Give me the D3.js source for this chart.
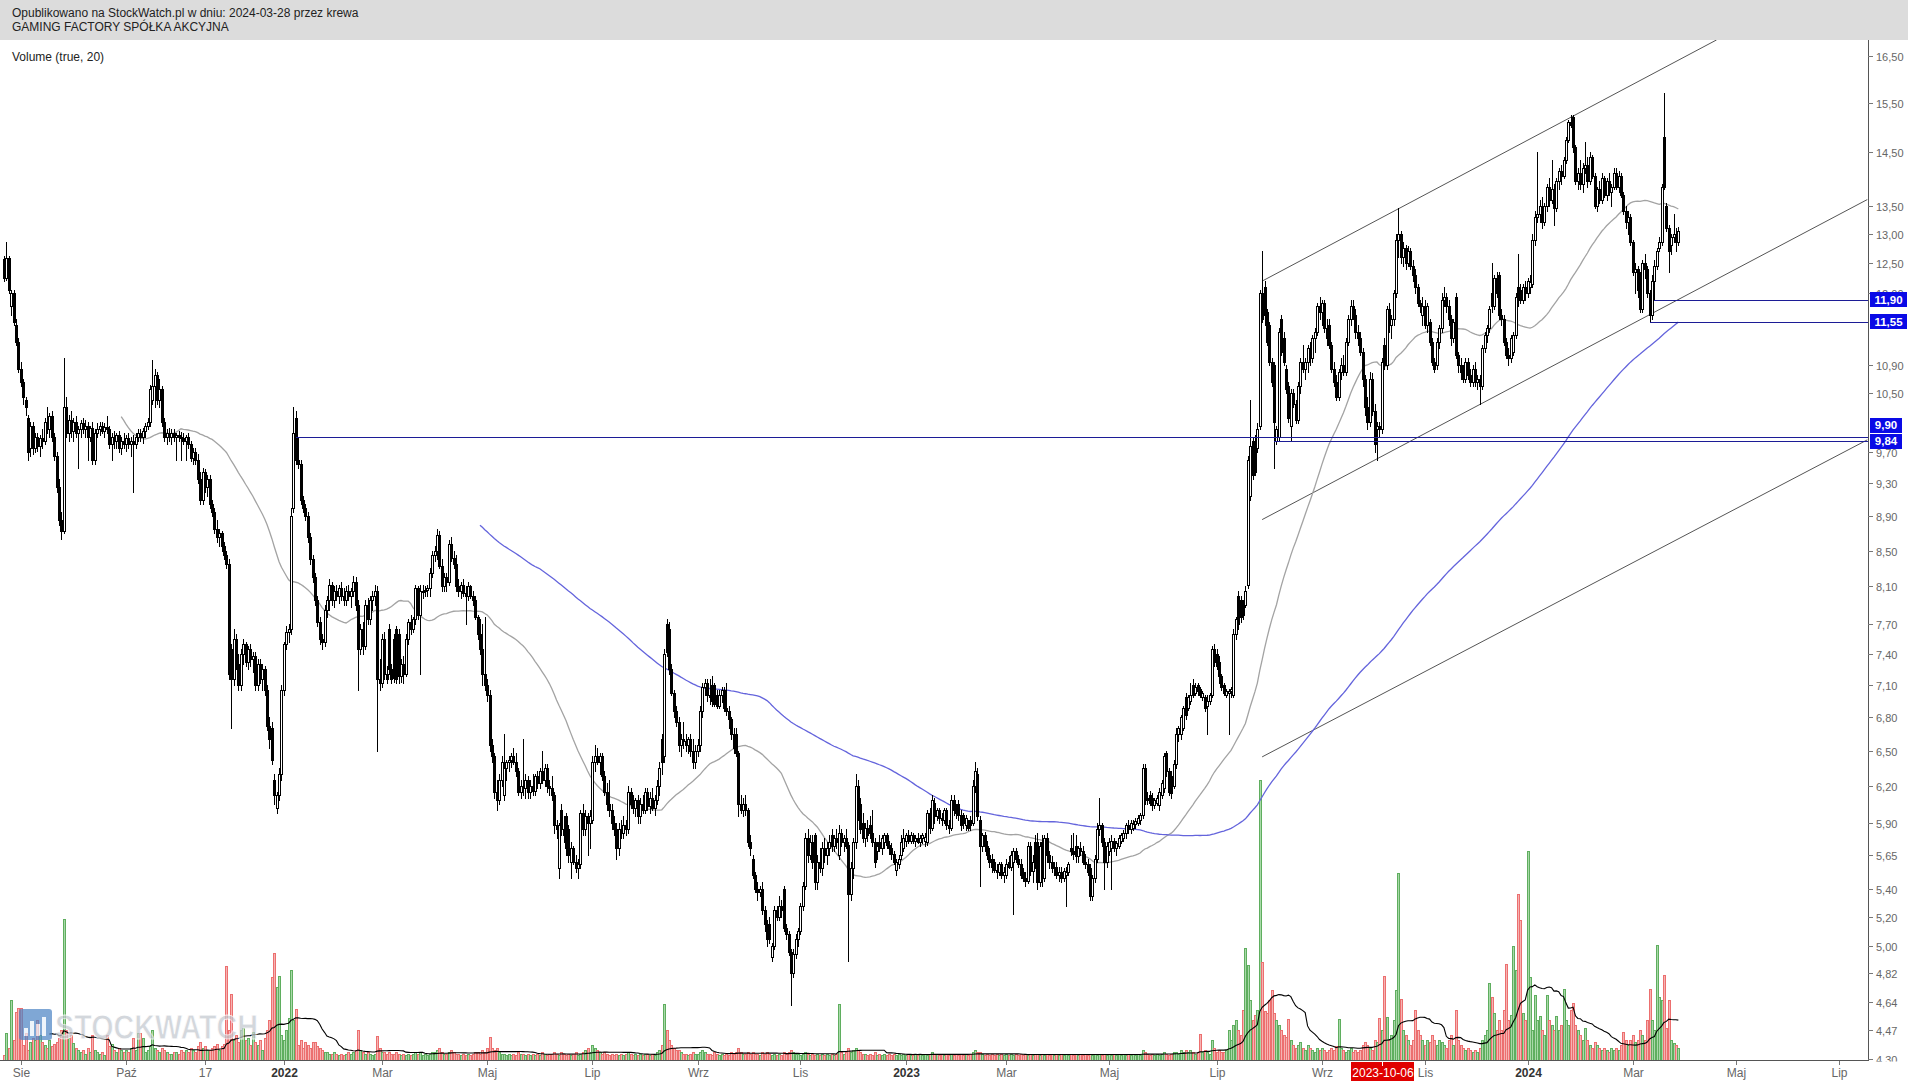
<!DOCTYPE html>
<html><head><meta charset="utf-8">
<script src="https://cdn.jsdelivr.net/npm/d3@7"></script>
<style>
body{margin:0;background:#fff;overflow:hidden}
svg{display:block}
text{font-family:"Liberation Sans",Arial,sans-serif}
</style>
</head><body>
<svg id="c" width="1908" height="1081"></svg>
<script>
// ---------------- DATA ----------------
const titleLine1 = "Opublikowano na StockWatch.pl w dniu: 2024-03-28 przez krewa";
const titleLine2 = "GAMING FACTORY SPÓŁKA AKCYJNA";
const volumeLabel = "Volume (true, 20)";
const firstTradingDay = "2021-07-22";
// daily candles, prices in grosze: open high low close volume(thousands)
const candleText = `
1256 1262 1220 1225 5;1225 1286 1222 1258 27;1258 1262 1200 1205 12;1180 1205 1165 1200 60;1200 1205 1150 1155 20;1150 1160 1120 1125 48;1125 1130 1080 1085 52;1085 1095 1060 1065 52;1065 1070 1035 1045 15;1040 1045 1020 1030 27
1015 1020 960 970 10;975 1010 965 1005 18;1005 1010 968 975 22;975 995 970 990 20;990 995 972 978 40;978 992 965 988 25;988 1000 975 985 18;985 1015 980 1010 15;1010 1030 995 1000 12;1000 1022 990 1018 20
1018 1025 985 990 14;990 995 960 965 16;965 970 920 925 18;925 935 880 885 22;885 895 863 872 30;872 1100 870 1030 141;1030 1045 990 995 30;995 1020 985 1012 22;1012 1025 990 998 25;998 1015 985 1010 17
1010 1018 990 995 12;995 1005 950 1000 10;1000 1012 990 1008 8;1008 1015 995 1000 10;1000 1012 990 1005 6;1005 1010 960 990 12;990 1005 985 1002 8;1002 1010 955 960 25;960 1000 955 995 10;995 1008 990 1000 8
1000 1010 992 1005 6;1005 1010 995 998 8;998 1008 990 1003 5;1003 1018 995 1000 25;1000 1005 975 980 14;980 995 960 990 16;990 998 975 985 10;985 995 975 992 8;992 998 970 975 12;975 990 968 985 10
985 995 975 980 8;980 992 972 988 10;988 995 975 980 8;980 990 965 985 12;985 992 920 980 22;980 995 975 990 10;990 1000 985 995 27;995 1000 985 990 27;990 1002 982 998 22;998 1008 990 1005 8
1005 1015 1000 1010 10;1010 1062 1005 1055 14;1040 1097 1035 1060 30;1060 1085 1030 1075 12;1075 1080 1035 1040 10;1040 1070 1030 1055 8;1055 1060 1005 1010 12;1010 1015 985 990 10;990 1000 980 995 8;995 1002 985 990 6
990 1000 980 995 6;995 1000 985 990 8;990 995 960 992 8;992 998 985 990 6;990 996 960 988 10;988 995 980 985 8;985 992 960 990 10;990 995 975 980 8;980 985 958 962 12;962 975 955 970 10
970 975 955 960 8;960 968 930 935 14;935 945 905 910 18;910 950 905 945 12;945 948 920 925 14;925 940 915 935 10;935 940 900 905 10;905 910 890 895 12;895 900 870 875 14;875 885 860 865 16
865 875 855 870 10;870 872 850 855 14;855 860 840 845 16;845 850 830 835 94;835 840 715 720 30;745 750 670 715 66;715 765 710 755 20;755 760 725 730 25;730 740 705 710 18;710 745 705 740 30
740 755 730 750 32;750 752 728 732 20;732 748 725 745 22;745 750 728 735 15;735 742 722 738 28;738 742 705 710 18;710 735 705 730 15;730 735 712 715 20;715 730 705 725 10;725 728 700 705 22
705 710 668 672 30;672 680 652 660 40;670 675 638 642 83;625 630 605 612 107;602 615 598 612 73;612 635 608 630 84;630 710 625 705 25;705 752 700 750 20;750 768 745 762 30;762 770 752 765 42
765 900 760 890 90;900 1030 895 995 40;1015 1025 955 960 51;960 988 950 955 15;955 960 905 910 20;910 915 895 900 12;900 905 885 890 18;890 895 860 865 15;865 870 835 840 12;840 845 815 820 18
820 825 790 795 18;795 800 768 772 14;772 778 750 755 12;755 760 745 752 10;752 790 748 785 8;785 800 778 795 8;795 818 785 812 6;812 815 790 795 6;795 810 788 805 8;805 812 795 800 6
800 812 792 808 5;808 815 795 800 6;800 808 790 795 5;795 810 790 805 6;805 812 795 800 8;800 808 788 805 6;805 822 800 815 8;815 820 785 790 10;790 795 705 745 30;745 770 740 765 10
765 772 740 748 8;748 795 745 790 6;790 798 770 775 8;775 800 770 795 6;795 805 785 800 5;800 812 790 805 6;805 810 650 715 24;715 735 705 712 12;712 760 708 755 8;755 762 715 720 8
720 728 712 715 6;765 770 720 725 8;725 730 712 715 6;755 760 713 716 6;765 768 712 715 8;760 765 712 718 6;718 735 713 730 5;730 738 712 720 6;720 760 718 755 5;755 775 750 772 6
772 780 760 765 5;765 778 762 775 6;775 812 770 808 8;808 810 775 780 6;780 812 720 805 8;805 812 798 805 5;805 810 800 806 6;806 812 800 808 5;808 830 800 825 6;825 850 820 845 8
845 855 838 850 8;850 875 840 868 10;868 872 830 832 12;832 840 805 810 8;810 825 805 820 6;820 825 805 815 6;815 862 812 858 8;858 865 838 842 10;842 850 830 835 8;835 845 805 810 6
810 818 800 805 6;805 815 798 812 5;812 818 800 803 6;803 810 770 800 5;800 815 795 810 6;810 812 798 800 5;800 805 790 795 6;795 800 775 778 8;778 780 755 760 8;760 775 740 745 6
745 770 710 720 10;720 778 705 710 8;710 715 695 700 12;700 705 650 655 23;655 660 640 645 12;645 648 610 615 10;615 625 600 608 12;608 630 605 625 8;625 645 620 640 6;612 665 608 635 6
635 642 625 640 5;640 645 632 642 6;642 648 636 645 5;645 652 638 640 6;640 648 628 632 5;632 635 612 615 8;615 625 610 620 6;620 660 612 618 6;618 630 610 625 5;625 628 610 615 6
615 625 610 620 5;620 630 612 616 6;616 630 612 628 5;628 632 618 622 6;622 635 618 632 5;632 650 622 625 8;625 638 620 635 6;635 638 615 620 5;620 625 612 618 6;618 628 608 612 6
612 615 582 588 8;588 592 578 585 6;555 590 548 588 5;600 605 580 585 8;585 595 575 580 6;595 598 565 570 5;585 588 560 565 6;560 575 548 570 5;570 572 558 560 6;560 565 552 555 8
555 562 548 558 5;558 600 555 598 6;598 605 580 585 8;585 600 580 595 10;595 598 565 590 12;590 600 570 595 8;592 645 590 640 15;640 655 632 645 12;645 652 638 640 10;640 648 630 645 8
645 648 625 628 6;628 632 612 615 8;615 622 600 605 6;605 625 595 600 5;600 605 585 590 6;590 595 580 585 5;585 590 562 570 6;570 590 565 585 5;585 592 578 582 6;582 595 578 588 5
588 592 580 585 6;585 620 582 615 8;615 618 602 605 6;605 612 598 602 5;602 610 595 608 6;608 612 590 595 5;595 610 590 605 6;605 612 598 600 5;600 618 598 615 6;615 618 600 603 6
603 615 598 610 5;610 618 600 602 6;602 612 596 608 5;608 625 605 620 8;620 640 612 635 10;660 665 630 640 15;645 745 640 740 56;770 775 738 742 30;765 772 720 725 20;725 730 700 702 15
702 705 680 685 12;685 690 672 675 10;675 680 650 655 10;655 665 645 660 8;660 675 652 658 6;658 665 650 655 6;655 662 648 660 5;660 665 645 650 6;650 660 635 640 8;640 655 635 650 6
650 660 645 655 6;655 690 650 685 8;685 712 680 708 10;708 715 700 712 8;712 715 695 700 6;700 715 692 698 6;710 718 690 695 5;710 712 690 692 8;700 705 688 690 6;690 705 688 700 5
700 708 694 705 6;705 708 685 688 5;688 712 682 685 6;685 690 670 678 5;678 680 660 665 8;665 670 648 652 6;665 670 645 648 8;648 650 595 605 12;605 612 598 600 8;600 610 595 605 6
605 612 596 600 6;600 602 572 575 8;575 580 565 570 6;562 565 548 550 8;550 552 538 540 6;540 545 532 538 6;538 542 535 540 5;540 545 522 525 8;525 528 510 515 6;515 518 500 505 8
515 520 502 505 6;493 502 490 500 5;500 528 498 525 6;525 528 518 520 5;520 535 518 528 6;528 532 520 525 5;540 542 510 512 8;512 515 505 508 6;508 510 494 496 8;496 498 462 482 10
482 498 480 495 8;495 508 492 505 6;505 512 500 510 6;510 530 508 528 5;528 545 525 542 6;542 582 540 578 8;578 585 560 565 6;565 580 562 575 5;575 580 555 560 6;580 582 540 545 5
545 565 540 560 6;560 570 552 555 5;555 575 550 570 6;570 578 560 565 5;565 575 558 570 6;570 580 565 575 5;580 585 568 572 6;572 580 568 578 5;578 585 570 575 6;565 588 562 582 56
582 585 572 575 8;575 580 568 578 6;578 585 570 572 8;573 575 490 536 12;536 560 532 555 8;555 578 548 575 10;575 630 570 620 12;620 625 592 595 10;605 610 582 585 8;590 598 575 578 6
578 590 572 586 6;586 592 576 580 5;588 595 578 582 6;582 600 572 575 5;575 578 556 560 8;568 575 562 572 5;575 580 568 570 6;570 580 566 578 5;575 582 570 580 6;580 582 570 573 5
573 576 566 570 6;570 574 562 566 5;566 568 558 560 6;554 562 550 560 5;558 565 555 562 6;565 580 562 575 5;570 585 568 578 6;576 582 572 580 5;580 584 574 576 6;576 583 574 580 5
580 582 574 576 5;576 580 572 578 6;578 582 574 575 5;575 580 572 578 6;578 582 574 580 5;576 582 572 579 6;575 600 573 598 5;598 602 582 586 6;586 612 584 608 8;606 610 590 595 6
595 602 592 600 6;600 602 590 594 5;594 598 588 592 6;592 602 590 600 5;600 602 585 588 6;588 592 582 586 5;586 612 584 608 6;608 612 596 600 5;600 605 594 598 6;605 608 592 596 5
596 600 584 588 6;596 598 586 590 5;588 596 584 594 6;590 592 584 586 5;592 595 584 588 6;590 625 588 620 8;620 640 615 632 10;630 635 592 595 8;592 595 542 572 8;572 582 568 580 6
580 583 568 572 5;572 576 562 565 6;565 570 556 560 5;562 566 552 556 6;560 562 552 554 5;554 558 548 552 6;552 560 550 558 5;558 560 548 550 6;550 556 545 552 5;550 562 548 558 6
560 564 555 556 5;556 568 554 565 6;560 570 522 568 5;568 570 560 562 6;562 565 556 558 5;558 562 548 550 6;552 555 546 548 5;548 552 542 546 6;546 575 544 572 5;572 575 550 553 6
553 565 545 560 5;575 580 555 558 6;575 582 540 545 6;545 575 542 572 5;575 580 542 548 6;548 580 546 578 5;578 582 560 565 6;565 568 555 560 5;560 564 552 555 6;555 560 550 556 5
556 560 548 550 6;550 556 546 552 5;552 556 545 548 6;548 555 546 553 5;550 556 528 552 6;552 560 550 558 5;570 580 565 568 6;568 582 562 566 5;572 580 560 564 6;564 572 560 570 5
570 575 565 568 6;568 572 558 560 5;560 566 555 558 6;558 562 550 552 5;555 558 532 535 6;535 550 532 548 5;548 565 545 562 6;562 590 560 585 5;585 610 580 588 6;588 590 572 575 5
575 578 540 560 6;560 575 556 572 5;568 578 565 575 6;570 580 540 576 5;576 578 568 570 6;570 576 565 574 5;572 580 570 578 6;576 582 574 580 5;578 584 576 582 6;582 590 578 588 5
588 592 582 585 6;585 592 582 590 5;586 592 584 589 6;589 594 586 591 5;590 596 588 594 6;592 598 589 596 5;596 638 594 635 10;635 638 605 610 8;610 615 605 608 6;612 616 604 606 5
610 614 600 604 6;604 610 602 608 5;606 612 604 610 6;604 618 600 615 5;612 625 610 622 6;618 648 615 645 8;648 650 628 632 6;632 635 612 615 5;628 632 610 614 6;620 642 618 638 8
638 670 635 665 8;665 672 658 670 6;665 682 660 680 10;670 690 668 688 8;698 702 678 682 10;688 700 686 698 8;695 712 692 700 10;710 715 698 700 8;702 712 700 708 6;710 712 700 704 8
706 708 698 700 26;698 704 696 702 8;698 700 685 688 10;690 700 665 695 8;695 702 692 700 6;700 748 698 745 20;745 750 728 732 12;740 745 725 728 8;732 738 712 718 10;718 720 705 708 8
710 712 700 702 8;700 706 698 704 10;702 706 665 704 30;704 708 698 706 20;700 765 698 760 35;760 778 755 775 40;800 805 765 770 30;795 800 772 778 25;790 795 775 780 50;790 810 788 805 112
812 965 808 960 95;915 1040 910 978 60;985 990 935 940 40;985 992 940 945 45;975 1008 970 1000 50;1005 1205 1000 1200 280;1200 1270 1155 1160 98;1210 1220 1150 1165 49;1170 1175 1120 1125 47;1150 1155 1090 1095 60
1095 1100 1060 1065 70;1090 1095 950 1010 47;985 1005 980 1000 40;990 1145 985 1140 35;1160 1165 1105 1110 30;1130 1140 1090 1095 25;1085 1090 1050 1055 23;1060 1065 1010 1015 41;1005 1055 985 1050 20;1050 1055 1030 1035 15
1035 1040 1008 1012 12;1012 1065 1008 1060 15;1060 1100 1050 1095 18;1095 1120 1080 1085 12;1085 1100 1070 1095 10;1095 1120 1080 1115 15;1115 1125 1090 1100 12;1100 1135 1095 1130 10;1130 1145 1110 1140 8;1140 1185 1135 1180 12
1180 1195 1160 1170 10;1170 1190 1150 1185 12;1185 1190 1140 1145 10;1145 1160 1120 1130 8;1150 1160 1115 1120 10;1120 1125 1080 1085 12;1085 1095 1060 1065 10;1065 1075 1040 1045 14;1045 1085 1040 1080 41;1080 1100 1070 1090 12
1090 1105 1075 1080 10;1080 1130 1075 1125 8;1125 1165 1120 1160 10;1160 1190 1150 1180 12;1180 1190 1160 1165 8;1165 1175 1130 1140 10;1140 1150 1120 1130 8;1130 1140 1105 1110 10;1110 1115 1060 1070 15;1070 1075 1020 1030 18
1030 1045 1000 1010 15;1010 1080 1005 1070 12;1070 1078 1020 1025 10;1025 1035 970 980 20;1000 1010 960 1005 18;1005 1010 990 1000 42;1000 1100 995 1095 30;1120 1130 1085 1090 84;1090 1180 1085 1175 43;1175 1185 1140 1150 20
1150 1165 1130 1160 25;1160 1205 1150 1200 40;1200 1300 1195 1290 70;1290 1345 1260 1300 187;1300 1305 1250 1260 61;1260 1285 1245 1275 30;1275 1280 1240 1250 25;1250 1278 1245 1270 20;1270 1275 1240 1245 15;1245 1255 1220 1230 20
1230 1240 1200 1210 50;1210 1215 1180 1185 30;1185 1190 1170 1180 25;1165 1195 1150 1180 20;1180 1190 1145 1150 15;1150 1185 1140 1180 20;1155 1160 1120 1125 18;1125 1130 1090 1095 25;1095 1100 1080 1085 20;1090 1130 1085 1125 15
1125 1150 1115 1145 20;1145 1200 1140 1190 18;1190 1210 1180 1195 15;1195 1200 1170 1180 12;1180 1190 1150 1160 20;1160 1165 1120 1130 25;1130 1160 1125 1155 15;1195 1200 1100 1105 50;1105 1110 1080 1090 20;1090 1100 1070 1080 15
1080 1090 1065 1070 12;1070 1100 1065 1095 10;1095 1100 1070 1075 12;1075 1085 1060 1065 10;1065 1090 1060 1085 8;1085 1095 1060 1065 10;1065 1075 1055 1070 8;1070 1075 1035 1060 12;1060 1120 1055 1115 20;1115 1140 1110 1135 25
1135 1150 1125 1145 30;1145 1180 1140 1175 77;1200 1250 1170 1180 63;1180 1230 1175 1225 47;1225 1235 1195 1200 30;1230 1235 1160 1165 40;1165 1175 1150 1160 30;1160 1165 1120 1125 50;1125 1130 1100 1105 96;1105 1115 1090 1100 40
1100 1135 1095 1130 45;1110 1140 1105 1135 114;1135 1200 1130 1195 90;1210 1265 1180 1190 166;1205 1215 1185 1190 140;1190 1215 1185 1210 47;1210 1220 1190 1200 40;1200 1225 1195 1220 209;1210 1230 1200 1218 83;1215 1300 1210 1290 30
1290 1340 1280 1330 65;1330 1450 1320 1335 40;1335 1360 1320 1350 44;1350 1365 1310 1320 30;1320 1355 1315 1350 25;1350 1390 1340 1385 65;1385 1400 1350 1360 40;1360 1435 1355 1380 35;1380 1390 1315 1345 30;1345 1400 1340 1395 44
1395 1420 1380 1415 30;1415 1425 1390 1405 35;1405 1440 1400 1435 71;1435 1480 1430 1475 40;1475 1515 1470 1510 35;1510 1525 1500 1505 50;1520 1525 1450 1460 57;1460 1465 1390 1395 35;1395 1420 1380 1410 30;1410 1435 1380 1390 25
1390 1430 1375 1420 20;1420 1470 1410 1425 32;1425 1440 1385 1395 20;1395 1450 1390 1440 15;1440 1445 1400 1405 12;1405 1410 1345 1350 18;1350 1385 1340 1380 15;1380 1395 1355 1360 12;1360 1410 1355 1400 10;1400 1405 1365 1370 12
1370 1400 1360 1395 10;1395 1410 1370 1375 8;1375 1390 1350 1385 12;1385 1420 1380 1410 10;1410 1420 1380 1385 12;1385 1415 1375 1405 10;1405 1410 1365 1370 15;1370 1375 1335 1340 28;1340 1350 1310 1320 20;1320 1340 1300 1330 15
1330 1335 1280 1285 20;1285 1290 1230 1235 25;1235 1250 1200 1240 18;1240 1245 1195 1205 20;1230 1235 1170 1175 30;1175 1255 1170 1250 25;1250 1265 1225 1240 20;1240 1245 1195 1200 40;1200 1205 1155 1165 71;1165 1230 1160 1220 40
1220 1255 1190 1245 30;1245 1275 1240 1270 115;1275 1295 1270 1285 63;1285 1390 1280 1385 60;1480 1570 1380 1385 85;1350 1355 1305 1310 32;1310 1315 1235 1270 60;1280 1300 1265 1295 20;1295 1335 1285 1300 17;1300 1310 1270 1285 15
1285 1312 1280 1305 12
`;
const monthTicks = [
  ["2021-08-02","Sie"],["2021-10-01","Paź"],["2021-11-17","17"],["2022-01-03","2022"],
  ["2022-03-01","Mar"],["2022-05-02","Maj"],["2022-07-01","Lip"],["2022-09-01","Wrz"],
  ["2022-11-01","Lis"],["2023-01-02","2023"],["2023-03-01","Mar"],["2023-05-01","Maj"],
  ["2023-07-03","Lip"],["2023-09-01","Wrz"],["2023-11-01","Lis"],["2024-01-01","2024"],
  ["2024-03-01","Mar"],["2024-05-01","Maj"],["2024-07-01","Lip"]
];
const yearLabels = ["2022","2023","2024"];
const priceTicks = [16.5,15.5,14.5,13.5,13.0,12.5,12.0,10.9,10.5,9.7,9.3,8.9,8.5,8.1,7.7,7.4,7.1,6.8,6.5,6.2,5.9,5.65,5.4,5.2,5.0,4.82,4.64,4.47,4.3];
const levelPrices = [9.90, 9.84, 11.90, 11.55];
const levelStarts = ["2022-01-10","2023-08-04","2024-03-14","2024-03-12"];
const trendStart = [["2023-07-28",12.20],["2023-07-28",8.86],["2023-07-28",6.445]];
const trendEnd   = [["2024-04-19",16.86],["2024-07-17",13.61],["2024-07-17",9.86]];
const markedDate = "2023-10-06";
const maShort = 50, maLong = 200, volMa = 20;

// ---------------- PARSE ----------------
const open=[],high=[],low=[],close=[],volume=[];
candleText.trim().split("\n").forEach(line=>{
  line.trim().split(";").forEach(tok=>{
    const v = tok.trim().split(/\s+/).map(Number);
    if (v.length<5) return;
    open.push(v[0]/100); high.push(v[1]/100); low.push(v[2]/100); close.push(v[3]/100); volume.push(v[4]);
  });
});
const N = close.length;

const tradingDates=[];
{
  const d = new Date(firstTradingDay+"T00:00:00");
  while(tradingDates.length<900){
    const wd=d.getDay();
    if(wd!==0&&wd!==6) tradingDates.push(new Date(d));
    d.setDate(d.getDate()+1);
  }
}
function idxOf(s){const t=new Date(s+"T00:00:00");return tradingDates.findIndex(d=>d>=t);}

function sma(arr,n){return arr.map((_,i)=> i<n-1?null:d3.mean(arr.slice(i-n+1,i+1)));}
const ma50=sma(close,maShort), ma200=sma(close,maLong), vma=sma(volume,volMa);

// ---------------- SCALES ----------------
const W=1908,H=1081, axisX=1868, plotTop=40, baseY=1060;
const x=d3.scaleLinear().domain([-1.67,779.3]).range([0,axisX]);
const y=d3.scaleLog().domain([4.3,16.5]).range([1058.6,56]);
const yv=d3.scaleLinear().domain([0,300]).range([baseY,baseY-300]);

const svg=d3.select("#c");
svg.append("rect").attr("width",W).attr("height",H).attr("fill","#fff");
const defs=svg.append("defs");
defs.append("clipPath").attr("id","plot").append("rect").attr("x",0).attr("y",plotTop).attr("width",axisX).attr("height",baseY+1-plotTop);
defs.append("clipPath").attr("id","axclip").append("rect").attr("x",axisX).attr("y",plotTop).attr("width",W-axisX).attr("height",1061.5-plotTop);

// header
svg.append("rect").attr("x",0).attr("y",0).attr("width",W).attr("height",plotTop).attr("fill","#dcdcdc");
svg.append("text").attr("x",12).attr("y",17).attr("font-size",12).attr("fill","#222").text(titleLine1);
svg.append("text").attr("x",12).attr("y",31).attr("font-size",12).attr("fill","#222").text(titleLine2);
svg.append("text").attr("x",12).attr("y",61).attr("font-size",12).attr("fill","#222").text(volumeLabel);

const plot=svg.append("g").attr("clip-path","url(#plot)");

// volume bars
const idx=d3.range(N);
plot.append("g").attr("shape-rendering","crispEdges").selectAll("rect").data(idx).join("rect")
  .attr("x",i=>Math.round(x(i))-0.5)
  .attr("y",i=>Math.round(yv(volume[i]))+0.5)
  .attr("width",2)
  .attr("height",i=>Math.max(0.5,baseY-Math.round(yv(volume[i]))-0.5))
  .attr("fill",i=>close[i]>=open[i]?"#a9d9a9":"#f6b3b3")
  .attr("stroke",i=>close[i]>=open[i]?"#5fae5f":"#ec6f6f")
  .attr("stroke-width",1);

// volume MA
plot.append("path").datum(idx).attr("fill","none").attr("stroke","#000").attr("stroke-width",1.1)
  .attr("d",d3.line().defined(i=>vma[i]!=null).x(i=>x(i)).y(i=>yv(vma[i])));

// watermark
const wm=svg.append("g").attr("opacity",0.72);
wm.append("rect").attr("x",19).attr("y",1009).attr("width",33).attr("height",31).attr("rx",3).attr("fill","#4f86c6");
[[24,1028,4,8],[30,1021,4,15],[36,1024,4,12],[42,1017,4,19]].forEach(b=>wm.append("rect").attr("x",b[0]).attr("y",b[1]).attr("width",b[2]).attr("height",b[3]).attr("fill","#e8f0fa"));
wm.append("text").attr("x",55).attr("y",1039).attr("font-size",35).attr("font-weight","bold")
  .attr("fill","#c3c8cf").attr("stroke","#fff").attr("stroke-width",0.8)
  .attr("textLength",203).attr("lengthAdjust","spacingAndGlyphs").text("STOCKWATCH");

// trend lines
trendStart.forEach((s,k)=>{
  const e=trendEnd[k];
  plot.append("line").attr("x1",x(idxOf(s[0]))).attr("y1",y(s[1])).attr("x2",x(idxOf(e[0]))).attr("y2",y(e[1]))
    .attr("stroke","#555").attr("stroke-width",1);
});

// moving averages
plot.append("path").datum(idx).attr("fill","none").attr("stroke","#a3a3a3").attr("stroke-width",1.3)
  .attr("d",d3.line().defined(i=>ma50[i]!=null).x(i=>x(i)).y(i=>y(ma50[i])));
plot.append("path").datum(idx).attr("fill","none").attr("stroke","#6464dc").attr("stroke-width",1.3)
  .attr("d",d3.line().defined(i=>ma200[i]!=null).x(i=>x(i)).y(i=>y(ma200[i])));

// candles
const cg=plot.append("g").attr("shape-rendering","crispEdges");
idx.forEach(i=>{
  const r=Math.round(x(i));
  cg.append("line").attr("x1",r+0.5).attr("x2",r+0.5).attr("y1",Math.round(y(high[i]))).attr("y2",Math.round(y(low[i]))+1)
    .attr("stroke","#000").attr("stroke-width",1);
  const t=Math.round(y(Math.max(open[i],close[i]))), b=Math.round(y(Math.min(open[i],close[i])));
  cg.append("rect").attr("x",r-0.5).attr("y",t+0.5).attr("width",2).attr("height",Math.max(1,b-t))
    .attr("fill",close[i]>=open[i]?"#fff":"#000").attr("stroke","#000").attr("stroke-width",1);
});

// horizontal levels
levelPrices.forEach((p,k)=>{
  const yy=Math.round(y(p))+0.5;
  plot.append("line").attr("x1",x(idxOf(levelStarts[k]))).attr("x2",axisX).attr("y1",yy).attr("y2",yy)
    .attr("stroke","#1c1c96").attr("stroke-width",1.3).attr("shape-rendering","crispEdges");
});

// axes lines
svg.append("line").attr("x1",axisX+0.5).attr("x2",axisX+0.5).attr("y1",plotTop).attr("y2",1061).attr("stroke","#555").attr("shape-rendering","crispEdges");
svg.append("line").attr("x1",0).attr("x2",axisX+1).attr("y1",1060.5).attr("y2",1060.5).attr("stroke","#555").attr("shape-rendering","crispEdges");

// right price axis
const fmt=v=>d3.format(".2f")(v).replace(".",",");
const ax=svg.append("g").attr("clip-path","url(#axclip)");
priceTicks.forEach(p=>{
  const yy=Math.round(y(p))+0.5;
  ax.append("line").attr("x1",axisX).attr("x2",axisX+5).attr("y1",yy).attr("y2",yy).attr("stroke","#777").attr("shape-rendering","crispEdges");
  ax.append("text").attr("x",axisX+8).attr("y",yy+4).attr("font-size",11).attr("fill","#666").text(fmt(p));
});

// level labels (stacked to avoid overlap)
const order=levelPrices.map((p,k)=>k).sort((a,b)=>levelPrices[a]-levelPrices[b]);
let prev=Infinity;
order.forEach(k=>{
  let yy=y(levelPrices[k]);
  if(yy>prev-16) yy=prev-16;
  prev=yy;
  const label=fmt(levelPrices[k]);
  const w=label.length>4?37:32;
  svg.append("rect").attr("x",axisX+2).attr("y",Math.round(yy-7.5)).attr("width",w).attr("height",15).attr("fill","#0a0ae6");
  svg.append("text").attr("x",axisX+2+w/2).attr("y",Math.round(yy)+4).attr("text-anchor","middle")
    .attr("font-size",11.5).attr("font-weight","bold").attr("fill","#fff").text(label);
});

// bottom date axis
monthTicks.forEach(([d,l])=>{
  const xx=Math.round(x(idxOf(d)))+0.5;
  svg.append("line").attr("x1",xx).attr("x2",xx).attr("y1",1061).attr("y2",1065).attr("stroke","#777").attr("shape-rendering","crispEdges");
  const yr=yearLabels.includes(l);
  svg.append("text").attr("x",xx).attr("y",1077).attr("text-anchor","middle").attr("font-size",12)
    .attr("font-weight",yr?"bold":"normal").attr("fill",yr?"#333":"#666").text(l);
});
{
  const xx=Math.round(x(idxOf(markedDate)));
  svg.append("rect").attr("x",xx-31).attr("y",1062).attr("width",63).attr("height",19).attr("fill","#e00000");
  svg.append("line").attr("x1",xx+0.5).attr("x2",xx+0.5).attr("y1",1062).attr("y2",1066).attr("stroke","#fff");
  svg.append("text").attr("x",xx+1).attr("y",1077).attr("text-anchor","middle").attr("font-size",12).attr("fill","#fff").text(markedDate);
}
</script>
</body></html>
